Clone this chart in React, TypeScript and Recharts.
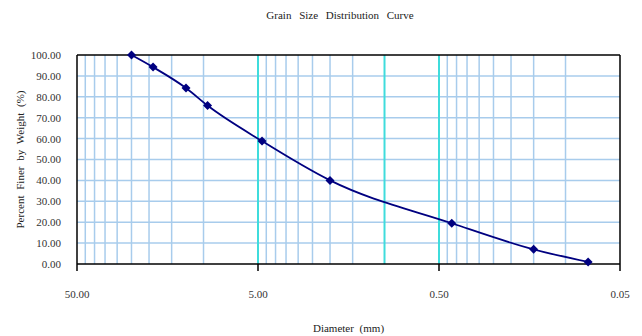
import React from 'react';
import {
  LineChart,
  Line,
  XAxis,
  YAxis,
  ReferenceLine,
} from 'recharts';

// sieve sizes (mm) and percent passing
const diameters = [25, 19, 12.5, 9.5, 4.75, 2.0, 0.425, 0.15, 0.075];
const percentFiner = [100, 94.2, 84.2, 75.8, 58.8, 40.0, 19.5, 7.0, 1.0];

const xTicks = [50, 5, 0.5, 0.05];
const yTicks = [0, 10, 20, 30, 40, 50, 60, 70, 80, 90, 100];
const minorGrid = [
  45, 40, 35, 30, 25, 20, 15, 10,
  4.5, 4, 3.5, 3, 2.5, 2, 1.5,
  0.45, 0.4, 0.35, 0.3, 0.25, 0.2, 0.15, 0.1,
];
const majorGrid = [5, 1, 0.5];
const hGrid = [10, 20, 30, 40, 50, 60, 70, 80, 90];

const data = diameters.map((d, i) => ({ d, p: percentFiner[i] }));

const serif = '"Liberation Serif", "DejaVu Serif", serif';
const navy = '#000080';
const tickStyle = { fill: '#333', fontSize: 11, fontFamily: serif, style: { fontFamily: serif } };

const Diamond = (props: any) => {
  const { cx, cy, index } = props;
  const r = 4.5;
  return (
    <polygon
      key={`dot-${index}`}
      points={`${cx},${cy - r} ${cx + r},${cy} ${cx},${cy + r} ${cx - r},${cy}`}
      fill={navy}
    />
  );
};

export default function App() {
  return (
    <div style={{ position: 'absolute', left: 0, top: 0, width: 642, height: 336, background: '#fff', fontFamily: serif }}>
      <div
        style={{
          position: 'absolute',
          top: 9,
          left: 0,
          width: 680,
          textAlign: 'center',
          fontSize: 11,
          wordSpacing: 5,
          color: '#222',
        }}
      >
        Grain Size Distribution Curve
      </div>
      <LineChart
        width={642}
        height={336}
        data={data}
        margin={{ top: 55, right: 22, bottom: 0, left: 0 }}
        style={{ fontFamily: serif }}
      >
        {hGrid.map((v) => (
          <ReferenceLine key={`h${v}`} y={v} stroke="#A8CCEC" strokeWidth={1.5} />
        ))}
        {minorGrid.map((v) => (
          <ReferenceLine key={`m${v}`} x={v} stroke="#A8CCEC" strokeWidth={1.5} />
        ))}
        {majorGrid.map((v) => (
          <ReferenceLine key={`c${v}`} x={v} stroke="#3FDCDC" strokeWidth={2} />
        ))}
        <ReferenceLine y={100} stroke="#000" strokeWidth={1.5} />
        <ReferenceLine x={0.05} stroke="#000" strokeWidth={1.5} />
        <XAxis
          dataKey="d"
          type="number"
          scale="log"
          domain={[0.05, 50]}
          allowDataOverflow
          reversed
          ticks={xTicks}
          tickFormatter={(v: number) => v.toFixed(2)}
          height={72}
          tickSize={7}
          tickMargin={19}
          axisLine={{ stroke: '#000', strokeWidth: 1.5 }}
          tickLine={{ stroke: '#000', strokeWidth: 1.5 }}
          tick={tickStyle}
          label={{
            value: 'Diameter  (mm)',
            position: 'insideBottom',
            offset: 4,
            style: { fill: '#222', fontSize: 11, fontFamily: serif, wordSpacing: 3 },
          }}
        />
        <YAxis
          type="number"
          domain={[0, 100]}
          ticks={yTicks}
          tickFormatter={(v: number) => v.toFixed(2)}
          width={77}
          tickLine={false}
          tickSize={6}
          tickMargin={10}
          axisLine={{ stroke: '#000', strokeWidth: 1.5 }}
          tick={tickStyle}
          label={{
            value: 'Percent  Finer  by  Weight  (%)',
            angle: -90,
            position: 'insideLeft',
            offset: 20,
            style: { textAnchor: 'middle', fill: '#222', fontSize: 11, fontFamily: serif, wordSpacing: 3 },
          }}
        />
        <Line
          type="monotone"
          dataKey="p"
          stroke={navy}
          strokeWidth={1.8}
          dot={Diamond}
          isAnimationActive={false}
        />
      </LineChart>
    </div>
  );
}
